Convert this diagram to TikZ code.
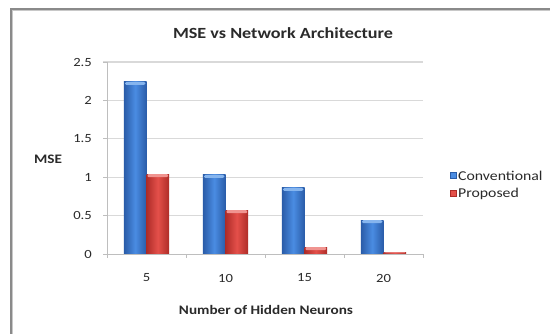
\documentclass[tikz,border=0pt]{standalone}
\usepackage{fontspec}
\setmainfont{Carlito}[FakeStretch=1.17]
\definecolor{framegray}{HTML}{8A8A8A}
\definecolor{framelight}{HTML}{C8C8C8}
\definecolor{gridgray}{HTML}{D9D9D9}
\definecolor{axisgray}{HTML}{BEBEBE}
\definecolor{txt}{HTML}{2A2A2A}
\definecolor{bluedark}{HTML}{2A5CA8}
\definecolor{bluelight}{HTML}{4A8CE2}
\definecolor{bluecap}{HTML}{86B5EE}
\definecolor{reddark}{HTML}{AE2C28}
\definecolor{redlight}{HTML}{E4504A}
\definecolor{redcap}{HTML}{F09490}
\begin{document}
\begin{tikzpicture}[x=1pt,y=-1pt,
  ticklab/.style={font=\fontsize{12.5}{12.5}\selectfont, text=txt, inner sep=0pt},
  axtitle/.style={font=\fontsize{13}{13}\selectfont\bfseries, text=txt, inner sep=0pt},
  legtext/.style={font=\fontsize{13.5}{13.5}\selectfont, text=txt, inner sep=0pt, anchor=west},
  gridline/.style={draw=gridgray, line width=1.2pt},
  axisline/.style={draw=axisgray, line width=1pt}]
\useasboundingbox (0,0) rectangle (550,333);
\fill[white] (0,0) rectangle (550,333);
% chart frame
\draw[framelight, line width=1pt] (12.5,334) -- (12.5,10.5) -- (551,10.5);
\draw[framegray, line width=1.4pt] (11,334) -- (11,9) -- (551,9);
% title
\node[font=\fontsize{15.5}{15.5}\selectfont\bfseries, text=txt, inner sep=0pt] (title) at (283,33) {MSE vs Network Architecture};
% gridlines and y labels
\foreach \v/\lab [count=\k] in {0.5/0.5,1/1,1.5/1.5,2/2,2.5/2.5} {
  \draw[gridline] (103,{254-\v*76.8}) -- (423,{254-\v*76.8});
  \node[ticklab, anchor=east] (yl\k) at (92,{254-\v*76.8}) {\lab};
}
\node[ticklab, anchor=east] (yl0) at (92,254) {0};
% bars
\foreach \i/\c/\p in {0/2.24/1.04, 1/1.03/0.57, 2/0.86/0.09, 3/0.44/0.02} {
  \pgfmathsetmacro{\cx}{146.5+79*\i}
  \pgfmathsetmacro{\ct}{254-\c*76.8}
  \pgfmathsetmacro{\pt}{254-\p*76.8}
  \shade[left color=bluedark, right color=bluedark, middle color=bluelight] (\cx-22.6,\ct) rectangle (\cx,254);
  \fill[bluecap, rounded corners=1.5pt] (\cx-21.6,\ct) rectangle (\cx-1,{min(\ct+3,254)});
  \shade[left color=reddark, right color=reddark, middle color=redlight] (\cx,\pt) rectangle (\cx+22.6,254);
  \fill[redcap, rounded corners=1pt] (\cx+1,\pt) rectangle (\cx+21.6,{min(\pt+3,253)});
}
% axes
\draw[axisline] (107,62) -- (107,254);
\draw[axisline] (103,254) -- (423,254);
\foreach \v in {0,0.5,1,1.5,2,2.5} \draw[axisline] (103,{254-\v*76.8}) -- (107,{254-\v*76.8});
\foreach \i in {0,1,2,3,4} \draw[axisline] ({107+79*\i},254) -- ({107+79*\i},258);
% x labels
\foreach \lab [count=\k from 0] in {5,10,15,20}
  \node[ticklab] (xl\k) at ({146.5+79*\k},278) {\lab};
% axis titles
\node[axtitle] (ytitle) at (48,159) {MSE};
\node[axtitle] (xtitle) at (266,310) {Number of Hidden Neurons};
% legend
\fill[bluelight, draw=bluedark, line width=0.6pt] (450,172) rectangle (456,178);
\node[legtext] (leg1) at (458,175.5) {Conventional};
\fill[redlight, draw=reddark, line width=0.6pt] (450,190.5) rectangle (456,196.5);
\node[legtext] (leg2) at (458,194) {Proposed};
\end{tikzpicture}
\end{document}
